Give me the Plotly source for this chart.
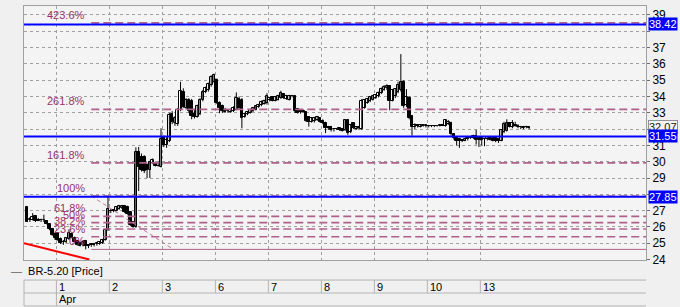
import plotly.graph_objects as go

# ---------------- data ----------------
day_labels = ["1", "2", "3", "6", "7", "8", "9", "10", "13"]
month_label = "Apr"
candles_per_day = 19
first_index = -11          # last 11 candles of 31 Mar are visible

opens = [
    # 31 Mar
    27.20, 26.40, 26.45, 26.65, 26.45, 26.40, 26.40, 26.35, 26.15, 25.85, 25.55,
    # 1 Apr
    25.60, 25.25, 25.05, 25.08, 25.28, 25.55, 25.35, 25.12, 25.00, 24.90, 25.15, 24.80, 24.88, 24.90, 24.95, 24.98, 25.02, 25.20, 25.80,
    # 2 Apr
    27.00, 26.95, 27.00, 27.10, 27.15, 27.30, 27.25, 26.90, 26.30, 26.00, 30.60, 30.30, 30.30, 29.80, 29.50, 29.95, 29.90, 29.75, 29.70,
    # 3 Apr
    31.45, 31.00, 31.30, 32.90, 32.40, 32.30, 33.20, 34.30, 33.30, 33.80, 33.75, 32.95, 32.76, 32.90, 33.80, 34.25, 34.40, 34.70, 34.90,
    # 6 Apr
    35.00, 33.60, 33.40, 33.20, 33.10, 33.05, 33.10, 33.20, 33.85, 33.80, 32.75, 32.90, 33.00, 33.10, 33.20, 33.35, 33.45, 33.55, 33.60,
    # 7 Apr
    33.80, 33.95, 33.75, 33.80, 33.90, 34.15, 33.85, 33.80, 34.05, 34.00, 33.25, 33.05, 33.10, 33.05, 32.75, 32.45, 32.50, 32.55, 32.65,
    # 8 Apr
    32.50, 32.40, 32.05, 32.15, 32.00, 32.00, 32.05, 32.00, 31.92, 32.55, 31.80, 32.35, 32.00, 32.05, 32.00, 33.30, 33.60, 33.70, 33.80,
    # 9 Apr
    33.90, 34.00, 34.20, 34.40, 34.50, 34.65, 33.75, 34.00, 34.30, 34.40, 34.90, 33.50, 33.90, 32.80, 32.10, 32.25, 32.15, 32.20, 32.20,
    # 10 Apr
    32.20, 32.18, 32.17, 32.19, 32.20, 32.21, 32.20, 32.30, 32.40, 31.70, 31.45, 31.40, 31.30, 31.30, 31.38, 31.45, 31.45, 31.60, 31.45,
    # 13 Apr
    31.45, 31.38, 31.38, 31.50, 31.45, 31.45, 31.40, 31.30, 31.80, 31.90, 32.35, 32.10, 32.25, 32.20, 32.12, 32.05, 32.15, 32.10,
]
highs = [
    27.25, 26.60, 26.85, 26.70, 26.55, 26.50, 26.75, 26.40, 26.20, 25.90, 25.65,
    25.65, 25.35, 25.20, 25.35, 25.85, 25.65, 25.40, 25.20, 25.10, 25.15, 25.20, 24.95, 25.00, 25.02, 25.05, 25.10, 25.25, 25.85, 27.90,
    27.10, 27.10, 27.25, 27.35, 27.35, 27.35, 27.30, 26.95, 26.35, 30.88, 30.90, 30.50, 30.40, 29.90, 30.05, 30.20, 30.00, 30.00, 32.05,
    31.60, 31.50, 33.00, 33.10, 32.80, 33.30, 34.90, 34.50, 33.90, 33.90, 33.85, 33.20, 33.50, 33.90, 34.40, 34.60, 34.85, 35.30, 35.40,
    35.10, 33.70, 33.50, 33.30, 33.20, 33.25, 33.40, 34.25, 34.00, 33.90, 33.00, 33.10, 33.25, 33.35, 33.45, 33.55, 33.75, 33.80, 34.20,
    33.95, 34.00, 34.00, 34.10, 34.35, 34.20, 34.10, 34.10, 34.10, 34.05, 33.30, 33.15, 33.20, 33.10, 32.80, 32.70, 32.75, 32.80, 32.70,
    32.60, 32.45, 32.20, 32.20, 32.05, 32.05, 32.10, 32.05, 32.60, 32.60, 32.30, 32.40, 32.15, 32.20, 33.85, 33.85, 33.90, 34.00, 34.10,
    34.15, 34.30, 34.55, 34.70, 34.75, 34.70, 34.45, 34.50, 34.90, 36.60, 35.00, 34.45, 34.00, 32.85, 32.35, 32.30, 32.30, 32.30, 32.28,
    32.25, 32.22, 32.22, 32.22, 32.24, 32.25, 32.60, 32.55, 32.45, 31.75, 31.50, 31.45, 31.35, 31.45, 31.50, 31.55, 31.65, 31.95, 31.50,
    31.50, 31.45, 31.55, 31.55, 31.50, 31.50, 31.45, 32.00, 32.45, 32.60, 32.40, 32.55, 32.45, 32.30, 32.20, 32.20, 32.20, 32.15,
]
lows = [
    26.30, 26.30, 26.40, 26.30, 26.35, 26.30, 26.30, 26.15, 25.80, 25.45, 25.20,
    25.15, 24.95, 24.90, 25.00, 25.20, 25.30, 25.05, 24.85, 24.80, 24.80, 24.62, 24.70, 24.78, 24.80, 24.85, 24.90, 24.95, 25.15, 25.75,
    26.85, 26.90, 26.95, 27.05, 27.10, 26.85, 26.75, 26.05, 25.95, 25.95, 28.20, 29.40, 29.30, 29.00, 29.00, 29.85, 29.70, 29.70, 29.65,
    30.90, 30.85, 31.20, 32.30, 32.20, 32.20, 33.10, 33.30, 33.20, 33.00, 32.60, 32.65, 32.70, 32.85, 33.70, 34.20, 34.30, 34.60, 34.85,
    33.55, 32.97, 33.00, 33.00, 33.00, 33.00, 33.05, 33.15, 33.20, 32.05, 32.70, 32.85, 32.95, 33.05, 33.15, 33.30, 33.40, 33.50, 33.50,
    33.70, 33.70, 33.70, 33.75, 33.85, 33.85, 33.80, 33.75, 33.95, 33.00, 32.95, 32.95, 33.00, 32.45, 32.15, 32.40, 32.40, 32.50, 32.40,
    32.30, 31.75, 31.95, 31.85, 31.85, 31.95, 31.90, 31.85, 31.88, 31.65, 31.75, 32.00, 31.95, 31.95, 31.95, 33.25, 33.55, 33.65, 33.75,
    33.85, 33.95, 34.15, 34.35, 34.40, 33.15, 33.70, 33.90, 34.20, 34.30, 33.30, 33.35, 32.60, 31.60, 32.00, 32.10, 32.10, 32.15, 32.10,
    32.10, 32.12, 32.12, 32.15, 32.16, 32.18, 32.15, 32.25, 31.60, 31.35, 31.00, 30.85, 31.20, 31.25, 31.30, 31.40, 31.40, 31.05, 30.90,
    31.00, 30.95, 31.30, 31.30, 31.25, 31.20, 31.15, 31.25, 31.75, 31.85, 32.10, 32.05, 32.15, 32.05, 32.00, 32.00, 32.05, 32.00,
]
closes = [
    26.32, 26.48, 26.60, 26.35, 26.38, 26.42, 26.45, 26.18, 25.85, 25.50, 25.30,
    25.20, 25.03, 25.10, 25.30, 25.60, 25.35, 25.10, 24.90, 24.85, 25.10, 24.80, 24.92, 24.95, 24.97, 25.00, 25.05, 25.20, 25.80, 27.10,
    26.95, 27.05, 27.20, 27.30, 27.30, 26.90, 26.80, 26.10, 26.00, 30.60, 29.70, 29.50, 29.40, 29.50, 30.00, 30.10, 29.75, 29.95, 31.40,
    31.05, 31.35, 32.85, 32.45, 32.70, 33.20, 34.35, 33.35, 33.80, 33.10, 32.80, 32.75, 33.40, 33.80, 34.30, 34.50, 34.75, 35.20, 35.30,
    33.60, 33.30, 33.10, 33.05, 33.08, 33.20, 33.30, 33.90, 33.30, 32.70, 32.95, 33.05, 33.15, 33.30, 33.40, 33.50, 33.65, 33.75, 34.00,
    33.90, 33.75, 33.95, 34.05, 34.20, 33.90, 34.05, 34.05, 34.00, 33.10, 33.00, 33.08, 33.05, 32.50, 32.45, 32.65, 32.70, 32.75, 32.45,
    32.35, 32.05, 32.15, 31.95, 31.98, 32.00, 31.95, 31.90, 32.55, 31.75, 32.25, 32.05, 32.10, 32.15, 33.75, 33.80, 33.85, 33.95, 34.05,
    34.10, 34.20, 34.45, 34.60, 34.65, 33.70, 34.40, 34.45, 34.70, 34.90, 33.40, 33.95, 32.70, 32.10, 32.25, 32.20, 32.25, 32.22, 32.20,
    32.18, 32.17, 32.19, 32.20, 32.21, 32.20, 32.55, 32.45, 31.70, 31.45, 31.30, 31.25, 31.30, 31.40, 31.45, 31.50, 31.60, 31.35, 31.35,
    31.35, 31.40, 31.50, 31.35, 31.30, 31.25, 31.30, 31.95, 32.30, 32.35, 32.15, 32.40, 32.22, 32.15, 32.10, 32.15, 32.10, 32.07,
]

# horizontal price levels (blue) and last price
blue_levels = [38.42, 31.55, 27.85]
last_price = 32.07

# Fibonacci tool
fib_high = 27.90
fib_low = 24.62
fib_ratios = [0.0, 0.236, 0.382, 0.5, 0.618, 1.0, 1.618, 2.618, 4.236]
fib_labels = ["0%", "23.6%", "38.2%", "50%", "61.8%", "100%", "161.8%", "261.8%", "423.6%"]
fib_start_x = 12.0     # candle index where the tool was anchored (100%)
fib_end_x = 41.5       # candle index of second anchor (0%)

# red trend line (candle index, price)
red_x = [-12.12, 11.3]
red_y = [25.0, 24.0]

x_range = [-12.12, 210.9]
y_range = [23.97, 39.55]
y_ticks = list(range(24, 40))
hidden_tick_labels = [28, 32, 38]   # covered by the price boxes in the original

# ---------------- figure ----------------
x_idx = list(range(first_index, first_index + len(opens)))
seps = [d * candles_per_day - 0.5 for d in range(len(day_labels))]

FONT = "Liberation Sans, Arial, sans-serif"
FS = 11
fib_color = "#b0608a"
label_color = "#993366"
MIN_BODY = 0.025

fig = go.Figure()

# wicks
wx, wy = [], []
for xi, h, l in zip(x_idx, highs, lows):
    wx += [xi, xi, None]
    wy += [l, h, None]
fig.add_trace(go.Scatter(x=wx, y=wy, mode="lines", line=dict(color="#000000", width=1),
                         hoverinfo="skip"))

# bodies
for up in (True, False):
    bx, bbase, bh = [], [], []
    for xi, o, c in zip(x_idx, opens, closes):
        if (c >= o) == up:
            bx.append(xi)
            lo = min(o, c)
            bbase.append(lo)
            bh.append(max(abs(c - o), MIN_BODY))
    fig.add_trace(go.Bar(x=bx, y=bh, base=bbase, width=0.95,
                         marker=dict(color="#ffffff" if up else "#000000",
                                     line=dict(color="#000000", width=1)),
                         hoverinfo="skip"))

fig.add_trace(go.Scatter(x=red_x, y=red_y, mode="lines",
                         line=dict(color="#ff0000", width=2), hoverinfo="skip"))

shapes = []
annotations = []

# fib levels
for r, lab in zip(fib_ratios, fib_labels):
    lvl = fib_low + r * (fib_high - fib_low)
    shapes.append(dict(type="line", xref="x", yref="y", x0=fib_start_x, x1=x_range[1],
                       y0=lvl, y1=lvl,
                       line=dict(color=fib_color, width=1 if r == 0 else 1.6,
                                 dash="solid" if r == 0 else "8px,4px")))
    annotations.append(dict(x=fib_start_x, y=lvl, xref="x", yref="y", text=lab,
                            showarrow=False, xanchor="right", yanchor="bottom",
                            xshift=-4, yshift=0,
                            font=dict(family=FONT, size=FS, color=label_color)))
# diagonal of fib tool
shapes.append(dict(type="line", xref="x", yref="y", x0=fib_start_x, x1=fib_end_x,
                   y0=fib_high, y1=fib_low,
                   line=dict(color="#c07898", width=1, dash="4px,3px")))

# last price box (drawn below the blue boxes)
annotations.append(dict(x=1, y=last_price, xref="paper", yref="y", text=f"{last_price:.2f}",
                        showarrow=False, xanchor="left", xshift=2, yshift=1,
                        bgcolor="#f4f4f4", bordercolor="#909090", borderwidth=1, borderpad=0,
                        font=dict(family=FONT, size=FS, color="#202020")))
# blue levels
for lvl in blue_levels:
    shapes.append(dict(type="line", xref="paper", yref="y", x0=0, x1=1, y0=lvl, y1=lvl,
                       line=dict(color="#0000ff", width=2)))
    annotations.append(dict(x=1, y=lvl, xref="paper", yref="y", text=f"{lvl:.2f}",
                            showarrow=False, xanchor="left", xshift=2,
                            bgcolor="#0000ff", borderpad=0,
                            font=dict(family=FONT, size=FS, color="#ffffff")))

# legend line
annotations.append(dict(x=-0.024, y=-0.045, xref="paper", yref="paper",
                        text="<span style='color:#606060'>—</span>  BR-5.20 [Price]",
                        showarrow=False, xanchor="left", yanchor="middle",
                        font=dict(family=FONT, size=FS, color="#000000")))

# bottom time table
row_top, row_mid, row_bot = -0.079, -0.130, -0.181
for yv in (row_top, row_mid, row_bot):
    shapes.append(dict(type="line", xref="paper", yref="paper", x0=0, x1=1, y0=yv, y1=yv,
                       line=dict(color="#b4b4b4", width=1)))
shapes.append(dict(type="line", xref="paper", yref="paper", x0=0, x1=0, y0=row_top, y1=row_bot,
                   line=dict(color="#b4b4b4", width=1)))
for i, (s, lab) in enumerate(zip(seps, day_labels)):
    shapes.append(dict(type="line", xref="x", yref="paper", x0=s, x1=s,
                       y0=row_top, y1=row_bot if i == 0 else row_mid,
                       line=dict(color="#b4b4b4", width=1)))
    annotations.append(dict(x=s, y=(row_top + row_mid) / 2, xref="x", yref="paper", text=lab,
                            showarrow=False, xanchor="left", yanchor="middle", xshift=1,
                            font=dict(family=FONT, size=FS, color="#000000")))
annotations.append(dict(x=seps[0], y=(row_mid + row_bot) / 2, xref="x", yref="paper",
                        text=month_label, showarrow=False, xanchor="left", yanchor="middle",
                        xshift=1, font=dict(family=FONT, size=FS, color="#000000")))

fig.update_layout(
    width=680, height=307,
    margin=dict(l=24, r=34, t=6, b=47),
    paper_bgcolor="#f0f0f0", plot_bgcolor="#f4f4f4",
    showlegend=False, barmode="overlay", bargap=0,
    shapes=shapes, annotations=annotations,
    font=dict(family=FONT, size=FS, color="#000"),
)
fig.update_xaxes(range=x_range, tickvals=seps, showticklabels=False, ticks="",
                 showgrid=True, gridcolor="#a0a0a0", griddash="dot", gridwidth=1,
                 showline=True, linecolor="#a0a0a0", mirror=True, zeroline=False)
fig.update_yaxes(side="right", range=y_range, tickvals=y_ticks,
                 ticktext=["" if t in hidden_tick_labels else str(t) for t in y_ticks],
                 ticks="outside", ticklen=3, tickcolor="#707070",
                 tickfont=dict(family=FONT, size=FS + 1, color="#000000"),
                 showgrid=True, gridcolor="#a0a0a0", griddash="dot", gridwidth=1,
                 showline=True, linecolor="#a0a0a0", mirror=True, zeroline=False)

fig.write_html("out.html")
